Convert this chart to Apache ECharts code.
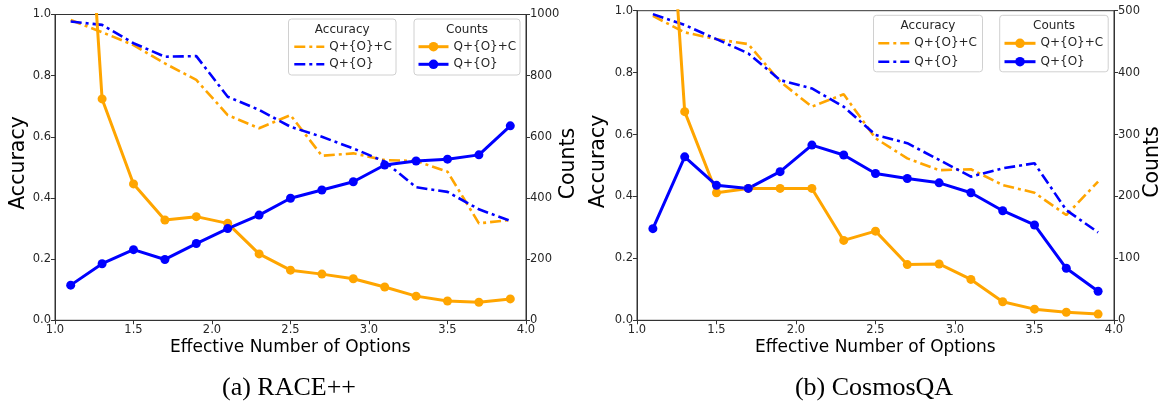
<!DOCTYPE html>
<html>
<head>
<meta charset="utf-8">
<script src="https://cdn.jsdelivr.net/npm/echarts@6/dist/echarts.min.js"></script>
<style>html,body{margin:0;padding:0;background:#fff;}#c{width:1164px;height:408px;}</style>
</head>
<body>
<div id="c"></div>
<script>
const xVals = [1.1, 1.3, 1.5, 1.7, 1.9, 2.1, 2.3, 2.5, 2.7, 2.9, 3.1, 3.3, 3.5, 3.7, 3.9];

// (a) RACE++
const raceAccQOC = [0.982, 0.942, 0.900, 0.840, 0.786, 0.671, 0.628, 0.671, 0.538, 0.546, 0.524, 0.521, 0.486, 0.317, 0.328];
const raceAccQO  = [0.977, 0.966, 0.906, 0.862, 0.864, 0.731, 0.688, 0.633, 0.600, 0.562, 0.519, 0.435, 0.420, 0.363, 0.325];
const raceCntQOC = [2300, 724, 446, 328, 339, 317, 217, 164, 151, 136, 109, 79, 63, 59, 70];
const raceCntQO  = [115, 185, 231, 199, 251, 300, 344, 399, 426, 453, 508, 521, 527, 541, 636];

// (b) CosmosQA
const cosAccQOC = [0.983, 0.930, 0.908, 0.892, 0.771, 0.690, 0.730, 0.588, 0.523, 0.485, 0.488, 0.437, 0.412, 0.340, 0.448];
const cosAccQO  = [0.989, 0.954, 0.908, 0.862, 0.776, 0.749, 0.690, 0.599, 0.572, 0.518, 0.464, 0.491, 0.507, 0.356, 0.284];
const cosCntQOC = [1100, 337, 206, 213, 213, 213, 129, 144, 90, 91, 66, 30, 18, 13, 10];
const cosCntQO  = [148, 264, 218, 213, 240, 283, 267, 237, 229, 222, 206, 177, 154, 84, 47];

const xTicks = [1.0, 1.5, 2.0, 2.5, 3.0, 3.5, 4.0];
const accTicks = [0.0, 0.2, 0.4, 0.6, 0.8, 1.0];
const raceCntTicks = [0, 200, 400, 600, 800, 1000];
const cosCntTicks = [0, 100, 200, 300, 400, 500];

const labelNames = {
  accQOC: 'Q+{O}+C', accQO: 'Q+{O}', cntQOC: 'Q+{O}+C', cntQO: 'Q+{O}'
};
const ORANGE = '#FFA500', BLUE = '#0000FF';
const FONT = 'DejaVu Sans';
const pairs = arr => arr.map((v, i) => [xVals[i], v]);

const chart = echarts.init(document.getElementById('c'), null, {renderer: 'canvas'});

function xAx(gi) {
  return {
    type: 'value', gridIndex: gi, min: xTicks[0], max: xTicks[xTicks.length - 1], interval: 0.5,
    axisLine: {show: true, onZero: false, lineStyle: {color: '#333', width: 1}},
    axisTick: {show: true, inside: false, length: 4, lineStyle: {color: '#333'}},
    axisLabel: {color: '#262626', fontFamily: FONT, fontSize: 11.5, margin: 4, formatter: v => v.toFixed(1)},
    splitLine: {show: false}
  };
}
function yAx(gi, pos, max, interval, fmt) {
  return {
    type: 'value', gridIndex: gi, position: pos, min: 0, max: max, interval: interval,
    axisLine: {show: true, onZero: false, lineStyle: {color: '#333', width: 1}},
    axisTick: {show: true, inside: false, length: 4, lineStyle: {color: '#333'}},
    axisLabel: {color: '#262626', fontFamily: FONT, fontSize: 11.5, margin: 4, formatter: fmt},
    splitLine: {show: false}
  };
}

function accSeries(id, xi, yi, color, data) {
  return {
    id: id, name: id, type: 'line', xAxisIndex: xi, yAxisIndex: yi, data: pairs(data),
    symbol: 'none', showSymbol: false, clip: true, z: 2,
    lineStyle: {color: color, width: 2.6, type: [11, 4, 3, 4]},
    itemStyle: {color: color}
  };
}
function cntSeries(id, xi, yi, color, data) {
  return {
    id: id, name: id, type: 'line', xAxisIndex: xi, yAxisIndex: yi, data: pairs(data),
    symbol: 'circle', symbolSize: 9, showSymbol: true, clip: true, z: 3,
    lineStyle: {color: color, width: 3},
    itemStyle: {color: color}
  };
}

function legend(names, left, top, gap, w, hideSymbol) {
  const l = {
    data: names, orient: 'vertical', left: left, top: top,
    itemWidth: w, itemHeight: 12, itemGap: gap, padding: 0, selectedMode: false,
    textStyle: {fontFamily: FONT, fontSize: 12, color: '#262626'},
    formatter: n => labelNames[n.split('_')[1]],
    lineStyle: {width: hideSymbol ? 2.6 : 3},
    z: 6
  };
  if (hideSymbol) l.itemStyle = {opacity: 0};
  return l;
}

function legendBox(x, y, w, h, title, ty) {
  return [
    {type: 'rect', z: 5, shape: {x: x, y: y, width: w, height: h, r: 3},
     style: {fill: 'rgba(255,255,255,0.85)', stroke: '#d0d0d0', lineWidth: 1}},
    {type: 'text', z: 6, x: x + w / 2, y: ty,
     style: {text: title, fontFamily: FONT, fontSize: 12, fill: '#262626', align: 'center', verticalAlign: 'middle'}}
  ];
}
function vText(x, y, t) {
  return {type: 'text', x: x, y: y, rotation: Math.PI / 2,
    style: {text: t, fontFamily: FONT, fontSize: 20.5, fill: '#000', align: 'center', verticalAlign: 'middle'}};
}
function hText(x, y, t, size, fam) {
  return {type: 'text', x: x, y: y,
    style: {text: t, fontFamily: fam, fontSize: size, fill: '#000', align: 'center', verticalAlign: 'middle'}};
}

const option = {
  animation: false,
  backgroundColor: '#fff',
  grid: [
    {left: 55, right: 1164 - 526, top: 14.5, bottom: 408 - 320.3, show: true, borderColor: '#333', borderWidth: 1, backgroundColor: 'transparent'},
    {left: 637, right: 1164 - 1114, top: 10.7, bottom: 408 - 320.3, show: true, borderColor: '#333', borderWidth: 1, backgroundColor: 'transparent'}
  ],
  xAxis: [xAx(0), xAx(1)],
  yAxis: [
    yAx(0, 'left', 1, 0.2, v => v.toFixed(1)),
    yAx(0, 'right', 1000, 200, v => String(v)),
    yAx(1, 'left', 1, 0.2, v => v.toFixed(1)),
    yAx(1, 'right', 500, 100, v => String(v))
  ],
  legend: [
    legend(['a_accQOC', 'a_accQO'], 293, 40.7, 5.6, 30, true),
    legend(['a_cntQOC', 'a_cntQO'], 417, 40.7, 5.6, 30, false),
    legend(['b_accQOC', 'b_accQO'], 877, 37.3, 6.4, 31, true),
    legend(['b_cntQOC', 'b_cntQO'], 1003, 37.3, 6.4, 31, false)
  ],
  series: [
    accSeries('a_accQOC', 0, 0, ORANGE, raceAccQOC),
    accSeries('a_accQO', 0, 0, BLUE, raceAccQO),
    cntSeries('a_cntQOC', 0, 1, ORANGE, raceCntQOC),
    cntSeries('a_cntQO', 0, 1, BLUE, raceCntQO),
    accSeries('b_accQOC', 1, 2, ORANGE, cosAccQOC),
    accSeries('b_accQO', 1, 2, BLUE, cosAccQO),
    cntSeries('b_cntQOC', 1, 3, ORANGE, cosCntQOC),
    cntSeries('b_cntQO', 1, 3, BLUE, cosCntQO)
  ],
  graphic: [].concat(
    legendBox(288.5, 19, 107.5, 56, 'Accuracy', 30),
    legendBox(414, 19, 106, 56, 'Counts', 30),
    legendBox(873.5, 15.3, 109, 56.5, 'Accuracy', 25.5),
    legendBox(999.7, 15.3, 108.5, 56.5, 'Counts', 25.5),
    [
      vText(18.5, 163, 'Accuracy'),
      vText(569, 163.5, 'Counts'),
      vText(598.5, 161.5, 'Accuracy'),
      vText(1153, 162, 'Counts'),
      hText(290.4, 348, 'Effective Number of Options', 17, FONT),
      hText(875.4, 348, 'Effective Number of Options', 17, FONT),
      hText(289, 388, '(a) RACE++', 26, 'Liberation Serif'),
      hText(874, 388, '(b) CosmosQA', 26, 'Liberation Serif')
    ]
  )
};
chart.setOption(option);
</script>
</body>
</html>
